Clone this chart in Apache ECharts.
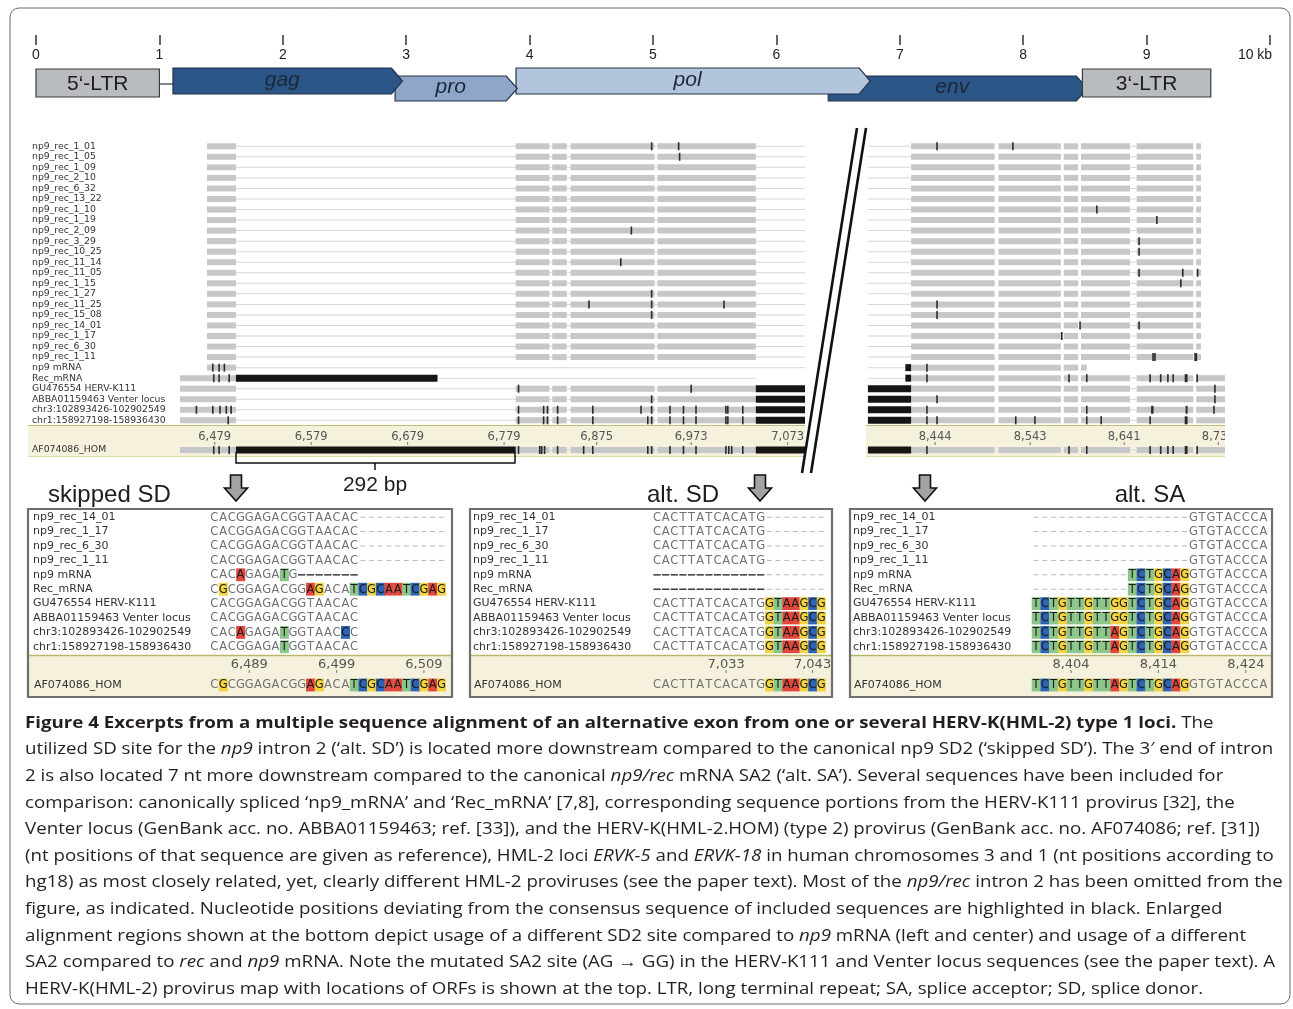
<!DOCTYPE html>
<html><head><meta charset="utf-8">
<script src="https://cdn.jsdelivr.net/npm/echarts@6/dist/echarts.min.js"></script>
<style>html,body{margin:0;padding:0;background:#fff}#c{width:1293px;height:1009px}</style>
</head><body><div id="c"></div>
<script>
// ================= DATA =================
// provirus map (kb)
const kbTicks = [0,1,2,3,4,5,6,7,8,9,10];
const geneNames = ['env','pol','pro','gag','5‘-LTR','3‘-LTR'];
const geneStart = [6.42, 3.89, 2.91, 1.11, 0.00, 8.48];
const geneEnd   = [8.52, 6.76, 3.90, 2.97, 1.00, 9.52];
const geneLane  = [1, 0, 1, 0, 0, 0];
const geneKind  = ['orf','orf','orf','orf','ltr','ltr'];

// overview alignment
const ovRowLabels = ['np9_rec_1_01','np9_rec_1_05','np9_rec_1_09','np9_rec_2_10','np9_rec_6_32','np9_rec_13_22','np9_rec_1_10','np9_rec_1_19','np9_rec_2_09','np9_rec_3_29','np9_rec_10_25','np9_rec_11_14','np9_rec_11_05','np9_rec_1_15','np9_rec_1_27','np9_rec_11_25','np9_rec_15_08','np9_rec_14_01','np9_rec_1_17','np9_rec_6_30','np9_rec_1_11','np9 mRNA','Rec_mRNA','GU476554 HERV-K111','ABBA01159463 Venter locus','chr3:102893426-102902549','chr1:158927198-158936430'];
const ovRowKind = ['rec','rec','rec','rec','rec','rec','rec','rec','rec','rec','rec','rec','rec','rec','rec','rec','rec','rec','rec','rec','rec','np9','recm','prov','prov','prov','prov'];
const homLabel = 'AF074086_HOM';
const leftRange = [6443, 7091];
const rightRange = [8372, 8746];
const exonL = [[6471,6501],[6791,6826],[6829,6844],[6848,6935],[6938,7040]];
const exonR = [[8419,8506],[8510,8575],[8578,8593],[8596,8647],[8654,8713],[8716,8721]];
const recmBlackEndL = 6710;
const lineStartR = 8374;
const mrnaBlackStartR = 8413;
const np9EndR = 8602;
const leftTicks = [6479,6579,6679,6779,6875,6973,7073];
const rightTicks = [8444,8543,8641,8739];
// variant marks [row, bp] or [row, bpStart, bpEnd]; row 27 = AF074086_HOM
const marksL = [[0,6932],[0,6960],[1,6961],[8,6911],[11,6900],[14,6932],[15,6867],[15,6932],[15,7007],[16,6932],
 [21,6477],[21,6483.5],[21,6489],[22,6478],[22,6483.5],[22,6494],[23,6794],[23,6973],[24,6932],
 [25,6460],[25,6477],[25,6484.5],[25,6491],[25,6496],[25,6794],[25,6820],[25,6824],[25,6834.5],[25,6871],[25,6921],[25,6932],[25,6951],[25,6965],[25,6978],[25,7009],[25,7011],[25,7026.5],
 [26,6493],[26,6794],[26,6820],[26,6824],[26,6834.5],[26,6871],[26,6928],[26,6932],[26,6951],[26,6965],[26,6978],[26,7009],[26,7011],[26,7026.5],
 [27,6478],[27,6483.5],[27,6494],[27,6794],[27,6816],[27,6818],[27,6821],[27,6834.5],[27,6861.5],[27,6871],[27,6928],[27,6932],[27,6951],[27,6965],[27,6978],[27,7009],[27,7012],[27,7015],[27,7026.5]];
const marksR = [[0,8446],[0,8525],[6,8612.5],[7,8675],[9,8656.5],[10,8656.5],[12,8656.5],[12,8702],[12,8717.5],[13,8700],[15,8446],[16,8446],[17,8595],[17,8656.5],[18,8576],[20,8671],[20,8673],[20,8714,8717],
 [21,8435.5],[22,8435.5],[22,8583.5],[22,8602],[22,8668],[22,8679],[22,8686.5],[22,8692],[22,8704,8707],[22,8717],
 [23,8735.5],[24,8446],[24,8735.5],[25,8435.5],[25,8602],[25,8669,8671.5],[25,8705,8707],[25,8734.5],
 [26,8435.5],[26,8446],[26,8528],[26,8548],[26,8602],[26,8617],[26,8668],[26,8704,8707],
 [27,8435.5],[27,8583.5],[27,8602],[27,8668],[27,8679],[27,8686.5],[27,8692],[27,8704,8707],[27,8717]];

// enlarged alignments (lowercase = highlighted base, '-' gap, '.' terminal gap)
const seqLabels = ['np9_rec_14_01','np9_rec_1_17','np9_rec_6_30','np9_rec_1_11','np9 mRNA','Rec_mRNA','GU476554 HERV-K111','ABBA01159463 Venter locus','chr3:102893426-102902549','chr1:158927198-158936430'];
const panelTitles = ['skipped SD','alt. SD','alt. SA'];
const skipSeqs = ['CACGGAGACGGTAACAC..........','CACGGAGACGGTAACAC..........','CACGGAGACGGTAACAC..........','CACGGAGACGGTAACAC..........','CACaGAGAtG-------','CgCGGAGACGGagACAtcgcaatcgag','CACGGAGACGGTAACAC','CACGGAGACGGTAACAC','CACaGAGAtGGTAACcC','CACGGAGAtGGTAACAC'];
const skipHom = 'CgCGGAGACGGagACAtcgcaatcgag';
const skipStart = 6485;
const skipTicks = [6489,6499,6509];
const altSdSeqs = ['CACTTATCACATG.......','CACTTATCACATG.......','CACTTATCACATG.......','CACTTATCACATG.......','-------------.......','-------------.......','CACTTATCACATGgtaagcg','CACTTATCACATGgtaagcg','CACTTATCACATGgtaagcg','CACTTATCACATGgtaagcg'];
const altSdHom = 'CACTTATCACATGgtaagcg';
const altSdStart = 7025;
const altSdTicks = [7033,7043];
const altSaSeqs = ['..................GTGTACCCA','..................GTGTACCCA','..................GTGTACCCA','..................GTGTACCCA','...........tctgcagGTGTACCCA','...........tctgcagGTGTACCCA','tctgttgttggtctgcagGTGTACCCA','tctgttgttggtctgcagGTGTACCCA','tctgttgttagtctgcagGTGTACCCA','tctgttgttagtctgcagGTGTACCCA'];
const altSaHom = 'tctgttgttagtctgcagGTGTACCCA';
const altSaStart = 8400;
const altSaTicks = [8404,8414,8424];

const captionLines = [
'{b|Figure 4 Excerpts from a multiple sequence alignment of an alternative exon from one or several HERV-K(HML-2) type 1 loci.} The',
'utilized SD site for the {i|np9} intron 2 (‘alt. SD’) is located more downstream compared to the canonical np9 SD2 (‘skipped SD’). The 3′ end of intron',
'2 is also located 7 nt more downstream compared to the canonical {i|np9/rec} mRNA SA2 (‘alt. SA’). Several sequences have been included for',
'comparison: canonically spliced ‘np9_mRNA’ and ‘Rec_mRNA’ [7,8], corresponding sequence portions from the HERV-K111 provirus [32], the',
'Venter locus (GenBank acc. no. ABBA01159463; ref. [33]), and the HERV-K(HML-2.HOM) (type 2) provirus (GenBank acc. no. AF074086; ref. [31])',
'(nt positions of that sequence are given as reference), HML-2 loci {i|ERVK-5} and {i|ERVK-18} in human chromosomes 3 and 1 (nt positions according to',
'hg18) as most closely related, yet, clearly different HML-2 proviruses (see the paper text). Most of the {i|np9/rec} intron 2 has been omitted from the',
'figure, as indicated. Nucleotide positions deviating from the consensus sequence of included sequences are highlighted in black. Enlarged',
'alignment regions shown at the bottom depict usage of a different SD2 site compared to {i|np9} mRNA (left and center) and usage of a different',
'SA2 compared to {i|rec} and {i|np9} mRNA. Note the mutated SA2 site (AG → GG) in the HERV-K111 and Venter locus sequences (see the paper text). A',
'HERV-K(HML-2) provirus map with locations of ORFs is shown at the top. LTR, long terminal repeat; SA, splice acceptor; SD, splice donor.'
];

// ================= STYLE / LAYOUT =================
const FONT = 'DejaVu Sans';
const SANS = 'Liberation Sans';
const baseColor = {A:'#e1473d', C:'#2f63b3', G:'#f2d341', T:'#8cc58a'};
const geneFill = {env:'#2b5586', gag:'#2b5586', pro:'#8ea7c9', pol:'#b2c5dd'};
const fmtNum = v => String(Math.round(v)).replace(/\B(?=(\d{3})+(?!\d))/g, ',');

// overview segment builders
function segsLeft(kind, row) {
  const out = [], body = exonL.slice(1), e0 = exonL[0];
  if (kind === 'rec') { out.push([0,row,e0[1],leftRange[1]]); exonL.forEach(s => out.push([1,row,s[0],s[1]])); }
  if (kind === 'np9') { out.push([0,row,e0[1],leftRange[1]]); out.push([1,row,e0[0],e0[1]]); }
  if (kind === 'recm') { out.push([0,row,recmBlackEndL,body[body.length-1][1]]); out.push([1,row,leftRange[0],e0[1]]); out.push([2,row,e0[1],recmBlackEndL]); }
  if (kind === 'prov' || kind === 'hom') {
    out.push([0,row,leftRange[0],leftRange[1]]); out.push([1,row,leftRange[0],e0[1]]);
    body.forEach(s => out.push([1,row,s[0],s[1]]));
    out.push([2,row,body[body.length-1][1],leftRange[1]]);
    if (kind === 'hom') out.push([2,row,e0[1],body[0][0]]);
  }
  return out;
}
function segsRight(kind, row) {
  const out = [], core = exonR.slice(0,5), tail = exonR[5];
  if (kind === 'rec') { out.push([0,row,lineStartR,exonR[0][0]]); out.push([0,row,exonR[3][1],exonR[4][0]]); exonR.forEach(s => out.push([1,row,s[0],s[1]])); }
  if (kind === 'np9') { out.push([0,row,lineStartR,mrnaBlackStartR]); out.push([2,row,mrnaBlackStartR,exonR[0][0]]); exonR.slice(0,3).forEach(s => out.push([1,row,s[0],s[1]])); out.push([1,row,exonR[3][0],np9EndR]); }
  if (kind === 'recm') { out.push([0,row,lineStartR,mrnaBlackStartR]); out.push([2,row,mrnaBlackStartR,exonR[0][0]]); }
  if (kind === 'prov' || kind === 'hom') { out.push([2,row,lineStartR,exonR[0][0]]); }
  if (kind === 'recm' || kind === 'prov' || kind === 'hom') {
    out.push([0,row,exonR[3][1],exonR[4][0]]);
    core.forEach(s => out.push([1,row,s[0],s[1]]));
    out.push([1,row,tail[0],rightRange[1]]);
  }
  return out;
}
function markItems(list, rowFilter, rowMap) {
  return list.filter(m => rowFilter(m[0])).map(m => [3, rowMap(m[0]), m[1], m.length > 2 ? m[2] : m[1]]);
}
const byCode = (a,b) => a[0]-b[0];
const ovLData = ovRowKind.flatMap((k,i) => segsLeft(k,i)).concat(markItems(marksL, r => r < 27, r => r)).sort(byCode);
const ovRData = ovRowKind.flatMap((k,i) => segsRight(k,i)).concat(markItems(marksR, r => r < 27, r => r)).sort(byCode);
const HOMY = 25;
const stLData = segsLeft('hom', HOMY).concat(markItems(marksL, r => r === 27, () => HOMY)).sort(byCode);
const stRData = segsRight('hom', HOMY).concat(markItems(marksR, r => r === 27, () => HOMY)).sort(byCode);

function segRender(params, api) {
  const code = api.value(0), row = api.value(1), s = api.value(2), e = api.value(3);
  const p0 = api.coord([s,row]), p1 = api.coord([e,row]);
  let x0 = p0[0], w = p1[0]-p0[0], h, fill;
  if (code === 0) { h = 1; fill = '#d6d6d6'; }
  else if (code === 1) { h = 6; fill = '#c6c7c9'; }
  else if (code === 2) { h = 7; fill = '#151515'; }
  else { h = 8; fill = '#2a2a2a'; if (w < 1.6) { x0 -= 0.8; w = 1.6; } }
  return {type:'rect', shape:{x:x0, y:p0[1]-h/2, width:w, height:h}, style:{fill}};
}
function tickRender(yLab, yTick, fs) {
  return function (params, api) {
    const v = api.value(0), lab = api.value(1);
    const p = api.coord([v, yLab]), q = api.coord([v, yTick]);
    return {type:'group', children:[
      {type:'text', style:{text:fmtNum(lab), x:p[0], y:p[1], align:'center', verticalAlign:'middle', fontSize:fs, fontFamily:FONT, fill:'#555'}},
      {type:'rect', shape:{x:q[0]-0.5, y:q[1]-1.5, width:1, height:3}, style:{fill:'#777'}}
    ]};
  };
}
function cellRender(cells) {
  return function (params, api) {
    const ch = cells[params.dataIndex];
    const p = api.coord([api.value(0), api.value(1)]);
    const cw = api.size([1,0])[0];
    if (ch === '-') return {type:'rect', shape:{x:p[0]-cw*0.42, y:p[1]-0.7, width:cw*0.84, height:1.5}, style:{fill:'#3a3a3a'}};
    if (ch === '.') return {type:'rect', shape:{x:p[0]-cw*0.27, y:p[1]-0.5, width:cw*0.54, height:1}, style:{fill:'#b4b4b4'}};
    const hl = ch !== ch.toUpperCase(), b = ch.toUpperCase();
    const kids = [];
    if (hl) kids.push({type:'rect', shape:{x:p[0]-cw/2, y:p[1]-6.4, width:cw+0.3, height:12.8}, style:{fill:baseColor[b]}});
    kids.push({type:'text', style:{text:b, x:p[0], y:p[1]+0.5, align:'center', verticalAlign:'middle', fontSize:11.5, fontFamily:FONT, fill: hl ? '#1a1a1a' : '#707070'}});
    return {type:'group', children:kids};
  };
}
function geneRender(params, api) {
  const i = params.dataIndex, cs = params.coordSys;
  const x0 = api.coord([geneStart[i],0])[0], x1 = api.coord([geneEnd[i],0])[0];
  const name = geneNames[i];
  if (geneKind[i] === 'ltr') {
    const top = cs.y + 3, h = 28, kids = [];
    if (i === 4) { const gx = api.coord([geneStart[3],0])[0]; kids.push({type:'line', shape:{x1:x1, y1:top+h/2+1, x2:gx, y2:top+h/2+1}, style:{stroke:'#333', lineWidth:1.2}}); }
    kids.push({type:'rect', shape:{x:x0, y:top, width:x1-x0, height:h}, style:{fill:'#b9bcbf', stroke:'#3b3b3b', lineWidth:1.2}});
    kids.push({type:'text', style:{text:name, x:(x0+x1)/2, y:top+h/2+1, align:'center', verticalAlign:'middle', fontSize:21, fontFamily:SANS, fill:'#1d1d1d'}});
    return {type:'group', children:kids};
  }
  const lane = geneLane[i], top = cs.y + (lane ? 10 : 2), h = lane ? 25 : 26, tip = 11;
  return {type:'group', children:[
    {type:'polygon', shape:{points:[[x0,top],[x1-tip,top],[x1,top+h/2],[x1-tip,top+h],[x0,top+h]]}, style:{fill:geneFill[name], stroke:'#24344a', lineWidth:1.2}},
    {type:'text', style:{text:name, x:(x0+x1-tip)/2, y:top+h/2-1, align:'center', verticalAlign:'middle', fontSize:21, fontStyle:'italic', fontFamily:SANS, fill:'#1b2738'}}
  ]};
}

// ================= PANELS =================
const panels = [
  {seqs:skipSeqs, hom:skipHom, start:skipStart, ticks:skipTicks, box:[28,509,452,697], seqLeft:210, colW:8.73, labX:33},
  {seqs:altSdSeqs, hom:altSdHom, start:altSdStart, ticks:altSdTicks, box:[470,509,832,697], seqLeft:652.7, colW:8.64, labX:473},
  {seqs:altSaSeqs, hom:altSaHom, start:altSaStart, ticks:altSaTicks, box:[850,509,1272,697], seqLeft:1031.7, colW:8.74, labX:853}
];

const grid = [
  {left:36, top:10, width:1234, height:25},
  {left:36, top:66, width:1234, height:36},
  {left:180, top:141, width:625, height:284.6},
  {left:866, top:141, width:359, height:284.6},
  {left:180, top:425, width:625, height:32},
  {left:866, top:425, width:359, height:32}
];
const xAxis = [
  {gridIndex:0, type:'value', min:0, max:10, interval:1, axisLine:{show:false}, splitLine:{show:false},
   axisTick:{show:true, length:10, lineStyle:{color:'#333', width:1.5}},
   axisLabel:{margin:13, fontSize:14, fontFamily:SANS, color:'#222', showMaxLabel:true, showMinLabel:true,
     formatter: v => v === 10 ? '{k|10 kb}' : String(v), rich:{k:{fontSize:14, fontFamily:SANS, color:'#222', padding:[0,30,0,0]}}}},
  {gridIndex:1, type:'value', min:0, max:10, show:false},
  {gridIndex:2, type:'value', min:leftRange[0], max:leftRange[1], show:false},
  {gridIndex:3, type:'value', min:rightRange[0], max:rightRange[1], show:false},
  {gridIndex:4, type:'value', min:leftRange[0], max:leftRange[1], show:false},
  {gridIndex:5, type:'value', min:rightRange[0], max:rightRange[1], show:false}
];
const hiddenVal = (gi, mx) => ({gridIndex:gi, type:'value', min:0, max:mx, inverse:true, show:false});
const yAxis = [
  {gridIndex:0, type:'value', show:false},
  {gridIndex:1, type:'value', min:0, max:1, show:false},
  {gridIndex:2, type:'category', data:ovRowLabels, inverse:true, axisLine:{show:false}, axisTick:{show:false},
   axisLabel:{interval:0, align:'left', margin:148, fontSize:9.3, fontFamily:FONT, color:'#333'}},
  {gridIndex:3, type:'category', data:ovRowLabels, inverse:true, show:false},
  hiddenVal(4, 32), hiddenVal(5, 32)
];
const series = [
  {type:'custom', xAxisIndex:1, yAxisIndex:1, data:geneNames.map((n,i)=>[geneStart[i],geneEnd[i]]), renderItem:geneRender, clip:false},
  {type:'custom', xAxisIndex:2, yAxisIndex:2, data:ovLData, renderItem:segRender, clip:false},
  {type:'custom', xAxisIndex:3, yAxisIndex:3, data:ovRData, renderItem:segRender, clip:false},
  {type:'custom', xAxisIndex:4, yAxisIndex:4, data:stLData, renderItem:segRender, clip:true},
  {type:'custom', xAxisIndex:5, yAxisIndex:5, data:stRData, renderItem:segRender, clip:true},
  {type:'custom', xAxisIndex:4, yAxisIndex:4, data:leftTicks.map(t=>[t,t]), renderItem:tickRender(12,18.5,11.5), clip:true},
  {type:'custom', xAxisIndex:5, yAxisIndex:5, data:rightTicks.map(t=>[t,t]), renderItem:tickRender(12,18.5,11.5), clip:true}
];

const graphic = [];
// frame
graphic.push({type:'rect', z:0, shape:{x:10, y:8, width:1280, height:996, r:9}, style:{fill:'none', stroke:'#6a6a6a', lineWidth:1}});
// overview strips
[[28,805],[866,1225]].forEach(s => {
  graphic.push({type:'rect', z:0, shape:{x:s[0], y:425, width:s[1]-s[0], height:32}, style:{fill:'#f5f1dc'}});
  graphic.push({type:'line', z:1, shape:{x1:s[0], y1:425.5, x2:s[1], y2:425.5}, style:{stroke:'#c2bf72', lineWidth:1.2}});
  graphic.push({type:'line', z:1, shape:{x1:s[0], y1:456.5, x2:s[1], y2:456.5}, style:{stroke:'#dcd9a8', lineWidth:1}});
});
graphic.push({type:'text', z:5, style:{text:homLabel, x:32, y:450, verticalAlign:'middle', fontSize:9.3, fontFamily:FONT, fill:'#333'}});
// break marks
graphic.push({type:'line', z:5, shape:{x1:857, y1:128, x2:802, y2:473}, style:{stroke:'#111', lineWidth:2.6}});
graphic.push({type:'line', z:5, shape:{x1:866, y1:128, x2:811, y2:473}, style:{stroke:'#111', lineWidth:2.6}});
// 292 bp bracket
graphic.push({type:'polyline', z:5, shape:{points:[[236,452],[236,463],[515,463],[515,452]]}, style:{stroke:'#111', lineWidth:1.5, fill:null}});
graphic.push({type:'line', z:5, shape:{x1:375, y1:463, x2:375, y2:470}, style:{stroke:'#111', lineWidth:1.5}});
graphic.push({type:'text', z:5, style:{text:'292 bp', x:375, y:485, align:'center', verticalAlign:'middle', fontSize:21, fontFamily:SANS, fill:'#1d1d1d'}});
// titles and arrows
const titlePos = [[48,'left'],[683,'center'],[1150,'center']];
panelTitles.forEach((t,i) => graphic.push({type:'text', z:5, style:{text:t, x:titlePos[i][0], y:495, align:titlePos[i][1], verticalAlign:'middle', fontSize:24, fontFamily:SANS, fill:'#1d1d1d'}}));
[236, 760, 925].forEach(cx => {
  const ty = 475;
  graphic.push({type:'polygon', z:5, shape:{points:[[cx-5.5,ty],[cx+5.5,ty],[cx+5.5,ty+13],[cx+11.5,ty+13],[cx,ty+26],[cx-11.5,ty+13],[cx-5.5,ty+13]]}, style:{fill:'#a3a3a3', stroke:'#111', lineWidth:1.6}});
});

// bottom panels
panels.forEach((P, k) => {
  const ncol = P.hom.length;
  const gRow = grid.length;
  grid.push({left:P.seqLeft, top:510, width:ncol*P.colW, height:144});
  grid.push({left:P.seqLeft, top:655, width:ncol*P.colW, height:42});
  xAxis.push({gridIndex:gRow, type:'value', min:0, max:ncol, show:false});
  xAxis.push({gridIndex:gRow+1, type:'value', min:0, max:ncol, show:false});
  yAxis.push({gridIndex:gRow, type:'category', data:seqLabels, inverse:true, axisLine:{show:false}, axisTick:{show:false},
    axisLabel:{interval:0, align:'left', margin:P.seqLeft-P.labX, fontSize:11, fontFamily:FONT, color:'#333'}});
  yAxis.push(hiddenVal(gRow+1, 42));
  const cells = [], data = [];
  P.seqs.forEach((s, r) => { for (let c = 0; c < s.length; c++) { if (s[c] !== ' ') { cells.push(s[c]); data.push([c+0.5, r]); } } });
  series.push({type:'custom', xAxisIndex:gRow, yAxisIndex:gRow, data, renderItem:cellRender(cells), clip:false});
  const hc = [], hd = [];
  for (let c = 0; c < P.hom.length; c++) { hc.push(P.hom[c]); hd.push([c+0.5, 30]); }
  series.push({type:'custom', xAxisIndex:gRow+1, yAxisIndex:gRow+1, data:hd, renderItem:cellRender(hc), clip:false});
  series.push({type:'custom', xAxisIndex:gRow+1, yAxisIndex:gRow+1, data:P.ticks.map(t => [t-P.start+0.5, t]), renderItem:tickRender(10,16.5,13), clip:false});
  const [x0,y0,x1,y1] = P.box;
  graphic.push({type:'rect', z:0, shape:{x:x0, y:655, width:x1-x0, height:y1-655}, style:{fill:'#f5f1dc'}});
  graphic.push({type:'line', z:1, shape:{x1:x0, y1:655.5, x2:x1, y2:655.5}, style:{stroke:'#b9b66c', lineWidth:1.3}});
  graphic.push({type:'rect', z:6, shape:{x:x0, y:y0, width:x1-x0, height:y1-y0}, style:{fill:'none', stroke:'#6f6f6f', lineWidth:2.2}});
  graphic.push({type:'text', z:5, style:{text:homLabel, x:P.labX+1, y:685, verticalAlign:'middle', fontSize:11, fontFamily:FONT, fill:'#333'}});
});

// caption
const CAPF = 'Open Sans', CAPS = 16.5;
const ctx = document.createElement('canvas').getContext('2d');
ctx.font = CAPS + 'px "' + CAPF + '"';
const plain = captionLines[1].replace(/\{[a-z]\|([^}]*)\}/g, '$1');
const capScale = 1250 / ctx.measureText(plain).width;
captionLines.forEach((ln, i) => {
  graphic.push({type:'text', z:5, x:25, y:723 + i*26.6, scaleX:capScale, style:{text:ln, x:0, y:0, verticalAlign:'middle',
    fontSize:CAPS, fontFamily:CAPF, fill:'#231f20',
    rich:{b:{fontSize:CAPS, fontFamily:CAPF, fontWeight:'bold', fill:'#231f20'}, i:{fontSize:CAPS, fontFamily:CAPF, fontStyle:'italic', fill:'#231f20'}}}});
});

const chart = echarts.init(document.getElementById('c'), null, {renderer:'canvas', width:1293, height:1009});
chart.setOption({
  backgroundColor:'#ffffff', animation:false,
  textStyle:{fontFamily:FONT},
  grid, xAxis, yAxis, series, graphic
});
</script></body></html>
